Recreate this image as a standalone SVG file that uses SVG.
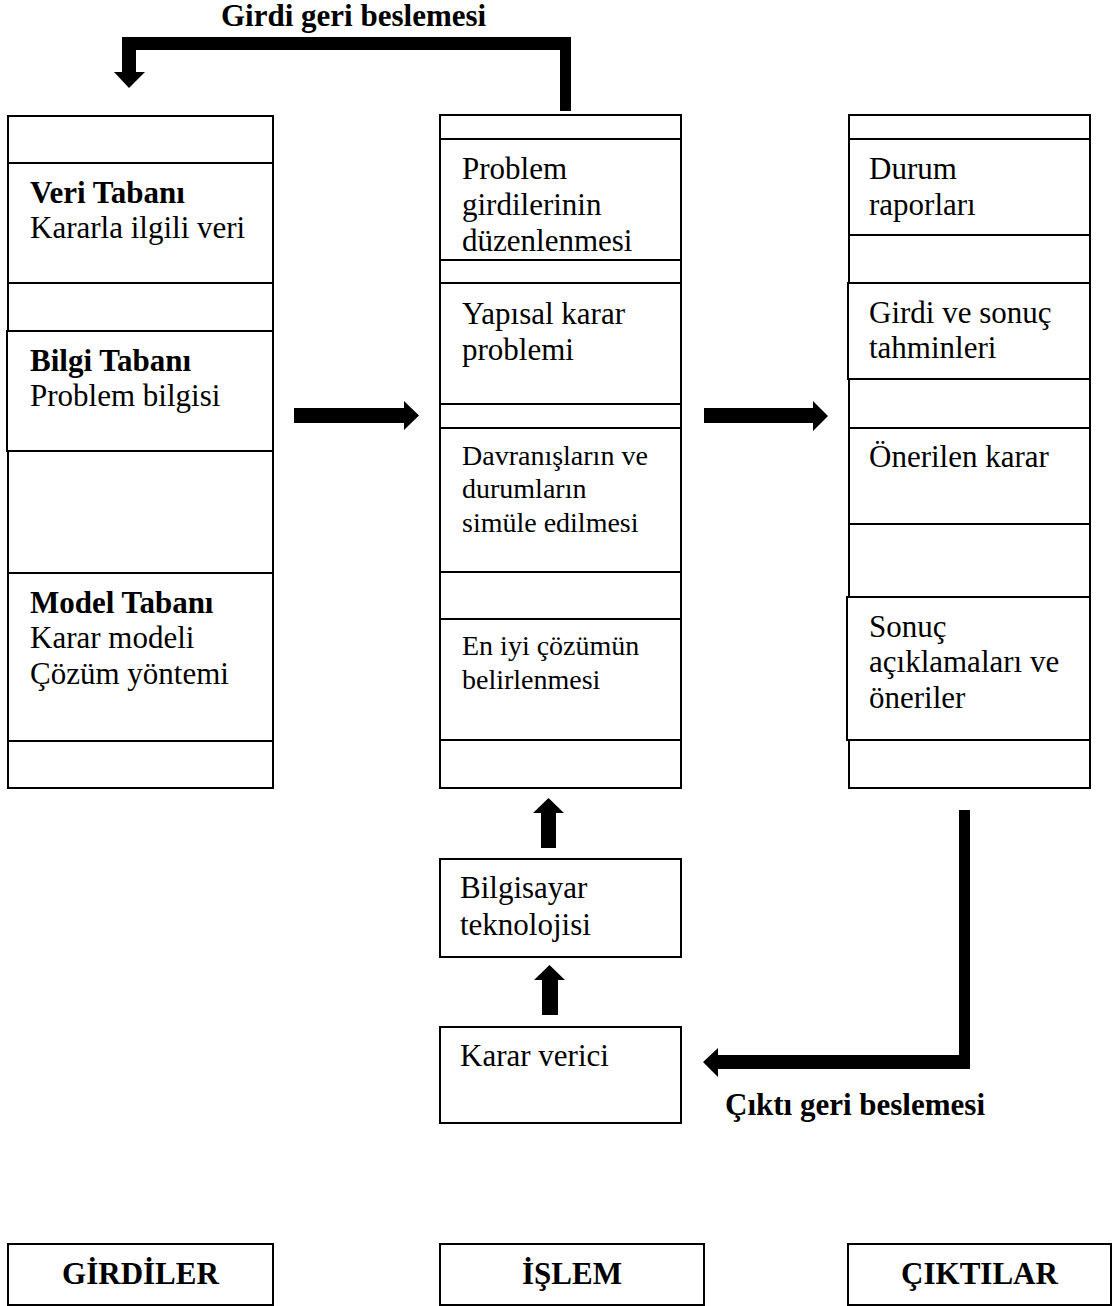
<svg xmlns="http://www.w3.org/2000/svg" width="1117" height="1306" viewBox="0 0 1117 1306">
  <style>
    .frame { fill: none; stroke: #000; stroke-width: 2; }
    .box { fill: #fff; stroke: #000; stroke-width: 2; }
    .t { font-family: "Liberation Serif", "Times New Roman", serif; font-size: 31px; fill: #000; }
    .s { font-size: 28px; }
    .b { font-weight: bold; }
    .c { text-anchor: middle; }
    .arrow { fill: #000; stroke: none; }
  </style>
  <rect width="1117" height="1306" fill="#fff"/>

  <!-- Inputs column -->
  <g id="col-inputs">
    <rect class="frame" x="8" y="116" width="265" height="672"/>
  </g>
  <g id="veri-tabani">
    <rect class="box" x="8" y="163" width="265" height="120"/>
    <text class="t b" x="30" y="203">Veri Tabanı</text>
    <text class="t" x="30" y="238">Kararla ilgili veri</text>
  </g>
  <g id="bilgi-tabani">
    <rect class="box" x="7" y="331" width="266" height="120"/>
    <text class="t b" x="30" y="371">Bilgi Tabanı</text>
    <text class="t" x="30" y="406">Problem bilgisi</text>
  </g>
  <g id="model-tabani">
    <rect class="box" x="8" y="573" width="265" height="168"/>
    <text class="t b" x="30" y="613">Model Tabanı</text>
    <text class="t" x="30" y="648">Karar modeli</text>
    <text class="t" x="30" y="684">Çözüm yöntemi</text>
  </g>

  <!-- Process column -->
  <g id="col-process">
    <rect class="frame" x="440" y="115" width="241" height="673"/>
  </g>
  <g id="problem-girdileri">
    <rect class="box" x="440" y="139" width="241" height="121"/>
    <text class="t" x="462" y="179">Problem</text>
    <text class="t" x="462" y="215">girdilerinin</text>
    <text class="t" x="462" y="251">düzenlenmesi</text>
  </g>
  <g id="yapisal-karar">
    <rect class="box" x="440" y="283" width="241" height="121"/>
    <text class="t" x="462" y="324">Yapısal karar</text>
    <text class="t" x="462" y="360">problemi</text>
  </g>
  <g id="simulasyon">
    <rect class="box" x="440" y="428" width="241" height="144"/>
    <text class="t s" x="462" y="465">Davranışların ve</text>
    <text class="t s" x="462" y="498">durumların</text>
    <text class="t s" x="462" y="532">simüle edilmesi</text>
  </g>
  <g id="en-iyi-cozum">
    <rect class="box" x="440" y="619" width="241" height="121"/>
    <text class="t s" x="462" y="655">En iyi çözümün</text>
    <text class="t s" x="462" y="689">belirlenmesi</text>
  </g>

  <!-- Outputs column -->
  <g id="col-outputs">
    <rect class="frame" x="849" y="115" width="241" height="673"/>
  </g>
  <g id="durum-raporlari">
    <rect class="box" x="849" y="139" width="241" height="96"/>
    <text class="t" x="869" y="179">Durum</text>
    <text class="t" x="869" y="215">raporları</text>
  </g>
  <g id="tahminler">
    <rect class="box" x="848" y="283" width="242" height="96"/>
    <text class="t" x="869" y="323">Girdi ve sonuç</text>
    <text class="t" x="869" y="358">tahminleri</text>
  </g>
  <g id="onerilen-karar">
    <rect class="box" x="849" y="428" width="241" height="96"/>
    <text class="t" x="869" y="467">Önerilen karar</text>
  </g>
  <g id="sonuc-aciklamalari">
    <rect class="box" x="847" y="597" width="243" height="143"/>
    <text class="t" x="869" y="637">Sonuç</text>
    <text class="t" x="869" y="672">açıklamaları ve</text>
    <text class="t" x="869" y="708">öneriler</text>
  </g>

  <!-- Support boxes below the process column -->
  <g id="bilgisayar-teknolojisi">
    <rect class="box" x="440" y="859" width="241" height="98"/>
    <text class="t" x="460" y="898">Bilgisayar</text>
    <text class="t" x="460" y="935">teknolojisi</text>
  </g>
  <g id="karar-verici">
    <rect class="box" x="440" y="1027" width="241" height="96"/>
    <text class="t" x="460" y="1066">Karar verici</text>
  </g>

  <!-- Column captions -->
  <g id="girdiler">
    <rect class="box" x="8" y="1244" width="265" height="61"/>
    <text class="t b c" x="140.5" y="1284">GİRDİLER</text>
  </g>
  <g id="islem">
    <rect class="box" x="440" y="1244" width="264" height="61"/>
    <text class="t b c" x="572" y="1284">İŞLEM</text>
  </g>
  <g id="ciktilar">
    <rect class="box" x="848" y="1244" width="263" height="61"/>
    <text class="t b c" x="979.5" y="1284">ÇIKTILAR</text>
  </g>

  <!-- Block arrows -->
  <g id="connectors">
    <polygon class="arrow" points="571,111 571,37 122,37 122,72 114,72 129,88 145,72 136,72 136,50 560,50 560,111"/>
    <polygon class="arrow" points="294,408 404,408 404,401 419,415.5 404,430 404,423 294,423"/>
    <polygon class="arrow" points="704,408 813,408 813,401 828,416 813,431 813,423 704,423"/>
    <polygon class="arrow" points="541,848 541,813 533,813 548.5,798 564,813 556,813 556,848"/>
    <polygon class="arrow" points="542,1015 542,980 534,980 549.5,965 565,980 558,980 558,1015"/>
    <polygon class="arrow" points="959,810 970,810 970,1069 718,1069 718,1077 703,1062 718,1048 718,1055 959,1055"/>
    <text class="t b" x="221" y="26">Girdi geri beslemesi</text>
    <text class="t b" x="725" y="1115">Çıktı geri beslemesi</text>
  </g>
</svg>
